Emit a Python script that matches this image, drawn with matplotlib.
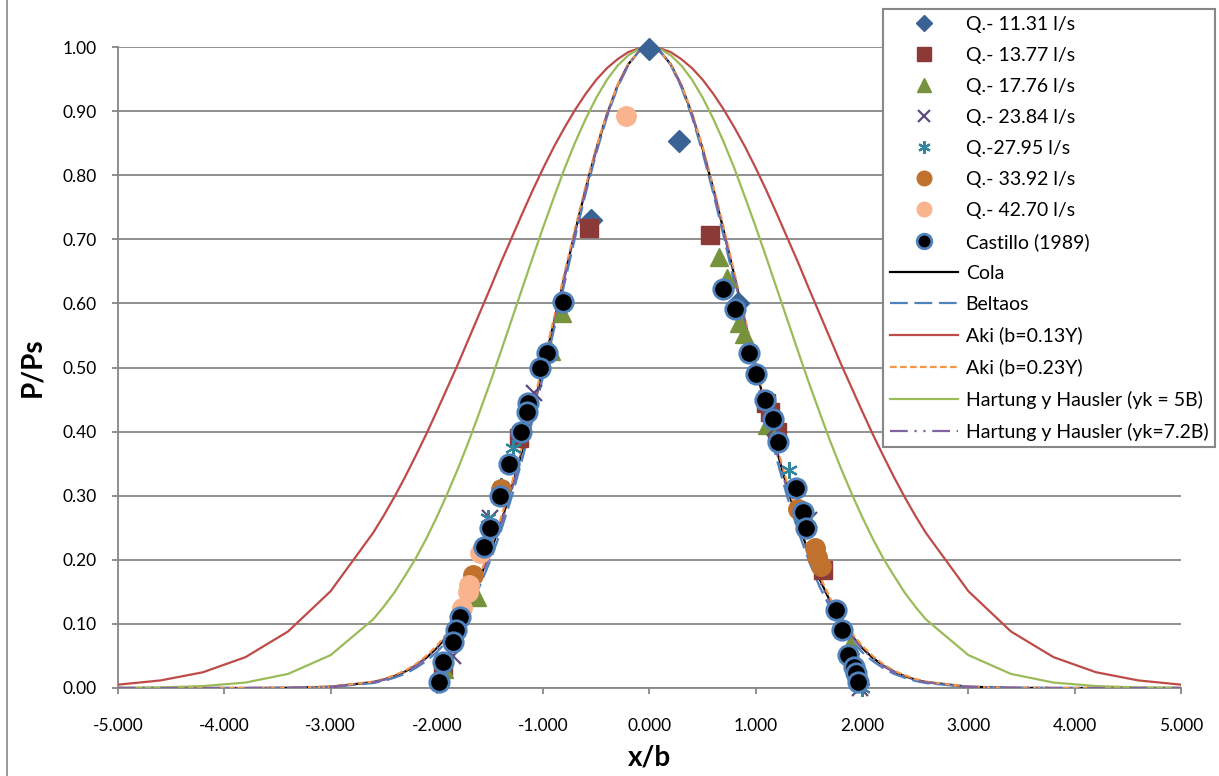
import matplotlib
matplotlib.use("Agg")
import matplotlib.pyplot as plt
from matplotlib.ticker import FormatStrFormatter, FixedLocator
from matplotlib.lines import Line2D

plt.rcParams['font.family'] = ['Lato', 'DejaVu Sans']
plt.rcParams['axes.unicode_minus'] = False

# ---------------- data ----------------
curve_x = [-5.0, -4.6, -4.2, -3.8, -3.4, -3.0,
           -2.6, -2.5, -2.4, -2.3, -2.2, -2.1, -2.0, -1.9, -1.8, -1.7, -1.6, -1.5, -1.4,
           -1.3, -1.2, -1.1, -1.0, -0.9, -0.8, -0.7, -0.6, -0.5, -0.4, -0.3, -0.2, -0.1,
           0.0,
           0.1, 0.2, 0.3, 0.4, 0.5, 0.6, 0.7, 0.8, 0.9, 1.0, 1.1, 1.2, 1.3,
           1.4, 1.5, 1.6, 1.7, 1.8, 1.9, 2.0, 2.1, 2.2, 2.3, 2.4, 2.5, 2.6,
           3.0, 3.4, 3.8, 4.2, 4.6, 5.0]

cola_y = [0.0, 0.0, 0.0, 0.0, 0.0003, 0.0020,
          0.0092, 0.0131, 0.0185, 0.0256, 0.0349, 0.0471, 0.0625, 0.082, 0.106, 0.135, 0.170, 0.210, 0.257,
          0.310, 0.369, 0.432, 0.500, 0.570, 0.642, 0.712, 0.779, 0.841, 0.895, 0.940, 0.973, 0.993,
          1.000,
          0.993, 0.973, 0.940, 0.895, 0.841, 0.779, 0.712, 0.642, 0.570, 0.500, 0.432, 0.369, 0.310,
          0.257, 0.210, 0.170, 0.135, 0.106, 0.082, 0.0625, 0.0471, 0.0349, 0.0256, 0.0185, 0.0131, 0.0092,
          0.0020, 0.0003, 0.0, 0.0, 0.0, 0.0]

beltaos_y = [0.0, 0.0, 0.0, 0.0, 0.0002, 0.0015,
             0.0077, 0.011, 0.016, 0.022, 0.031, 0.042, 0.056, 0.074, 0.097, 0.125, 0.158, 0.198, 0.244,
             0.296, 0.355, 0.418, 0.487, 0.558, 0.631, 0.703, 0.772, 0.835, 0.891, 0.937, 0.972, 0.993,
             1.000,
             0.993, 0.972, 0.937, 0.891, 0.835, 0.772, 0.703, 0.631, 0.558, 0.487, 0.418, 0.355, 0.296,
             0.244, 0.198, 0.158, 0.125, 0.097, 0.074, 0.056, 0.042, 0.031, 0.022, 0.016, 0.011, 0.0077,
             0.0015, 0.0002, 0.0, 0.0, 0.0, 0.0]

aki013_y = [0.0052, 0.0118, 0.0246, 0.0482, 0.0882, 0.151,
            0.242, 0.269, 0.298, 0.329, 0.362, 0.396, 0.432, 0.469, 0.506, 0.545, 0.584, 0.623, 0.663,
            0.701, 0.739, 0.776, 0.811, 0.844, 0.874, 0.902, 0.927, 0.949, 0.967, 0.981, 0.992, 0.998,
            1.000,
            0.998, 0.992, 0.981, 0.967, 0.949, 0.927, 0.902, 0.874, 0.844, 0.811, 0.776, 0.739, 0.701,
            0.663, 0.623, 0.584, 0.545, 0.506, 0.469, 0.432, 0.396, 0.362, 0.329, 0.298, 0.269, 0.242,
            0.151, 0.0882, 0.0482, 0.0246, 0.0118, 0.0052]

aki023_y = [0.0, 0.0, 0.0, 0.0, 0.0004, 0.0022,
            0.010, 0.014, 0.020, 0.027, 0.037, 0.050, 0.066, 0.086, 0.110, 0.140, 0.175, 0.217, 0.264,
            0.317, 0.376, 0.439, 0.507, 0.576, 0.647, 0.717, 0.783, 0.844, 0.897, 0.941, 0.973, 0.993,
            1.000,
            0.993, 0.973, 0.941, 0.897, 0.844, 0.783, 0.717, 0.647, 0.576, 0.507, 0.439, 0.376, 0.317,
            0.264, 0.217, 0.175, 0.140, 0.110, 0.086, 0.066, 0.050, 0.037, 0.027, 0.020, 0.014, 0.010,
            0.0022, 0.0004, 0.0, 0.0, 0.0, 0.0]

hh5_y = [0.0003, 0.0009, 0.0030, 0.0085, 0.0220, 0.0513,
         0.107, 0.127, 0.149, 0.175, 0.202, 0.233, 0.267, 0.304, 0.343, 0.385, 0.430, 0.476, 0.524,
         0.573, 0.622, 0.671, 0.719, 0.765, 0.810, 0.851, 0.888, 0.921, 0.949, 0.971, 0.987, 0.997,
         1.000,
         0.997, 0.987, 0.971, 0.949, 0.921, 0.888, 0.851, 0.810, 0.765, 0.719, 0.671, 0.622, 0.573,
         0.524, 0.476, 0.430, 0.385, 0.343, 0.304, 0.267, 0.233, 0.202, 0.175, 0.149, 0.127, 0.107,
         0.0513, 0.0220, 0.0085, 0.0030, 0.0009, 0.0003]

hh72_y = [0.0, 0.0, 0.0, 0.0, 0.0003, 0.0018,
          0.0088, 0.013, 0.018, 0.025, 0.034, 0.046, 0.061, 0.080, 0.104, 0.132, 0.167, 0.207, 0.254,
          0.306, 0.365, 0.429, 0.497, 0.567, 0.639, 0.710, 0.777, 0.839, 0.894, 0.939, 0.972, 0.993,
          1.000,
          0.993, 0.972, 0.939, 0.894, 0.839, 0.777, 0.710, 0.639, 0.567, 0.497, 0.429, 0.365, 0.306,
          0.254, 0.207, 0.167, 0.132, 0.104, 0.080, 0.061, 0.046, 0.034, 0.025, 0.018, 0.013, 0.0088,
          0.0018, 0.0003, 0.0, 0.0, 0.0, 0.0]

q1131_x = [0.00, 0.28, -0.55, 0.83]
q1131_y = [0.997, 0.853, 0.730, 0.600]

q1377_x = [-0.57, 0.57, -1.23, 1.10, 1.13, 1.20, 1.63, -1.94]
q1377_y = [0.718, 0.707, 0.390, 0.445, 0.430, 0.400, 0.184, 0.035]

q1776_x = [0.65, 0.73, 0.84, 0.89, -0.82, -0.93, 1.11, 1.89, -1.62, -1.93]
q1776_y = [0.673, 0.640, 0.570, 0.553, 0.585, 0.525, 0.410, 0.067, 0.142, 0.030]

q2384_x = [-1.09, -1.50, -1.85, 1.18, 1.50, 1.98]
q2384_y = [0.460, 0.265, 0.050, 0.405, 0.262, 0.000]

q2795_x = [1.31, -1.28, -1.40, -1.52, 2.00, 1.43]
q2795_y = [0.340, 0.375, 0.315, 0.265, 0.000, 0.265]

q3392_x = [1.40, 1.56, 1.58, 1.61, -1.40, -1.66]
q3392_y = [0.280, 0.218, 0.205, 0.190, 0.310, 0.176]

q4270_x = [-0.22, -1.59, -1.70, -1.71, -1.76]
q4270_y = [0.893, 0.210, 0.160, 0.150, 0.125]

castillo_x = [-0.81, -0.96, -1.03, -1.14, -1.15, -1.21, -1.32, -1.41, -1.50, -1.56, -1.78, -1.82,
              -1.85, -1.94, -1.98, 0.69, 0.80, 0.94, 1.00, 1.09, 1.16, 1.21, 1.38, 1.44, 1.47,
              1.75, 1.81, 1.87, 1.92, 1.94, 1.96]
castillo_y = [0.602, 0.523, 0.500, 0.445, 0.430, 0.400, 0.350, 0.300, 0.250, 0.220, 0.110, 0.090,
              0.072, 0.040, 0.010, 0.622, 0.592, 0.522, 0.490, 0.450, 0.420, 0.383, 0.312, 0.275, 0.250,
              0.122, 0.090, 0.051, 0.033, 0.023, 0.010]

x_ticks = [-5, -4, -3, -2, -1, 0, 1, 2, 3, 4, 5]
y_ticks = [0.0, 0.1, 0.2, 0.3, 0.4, 0.5, 0.6, 0.7, 0.8, 0.9, 1.0]

# ---------------- figure ----------------
W, H = 1219, 776
fig = plt.figure(figsize=(W / 100, H / 100), dpi=100)
ax = fig.add_axes([118 / W, 1 - 688 / H, (1181 - 118) / W, (688 - 47) / H])

grid_c = '#878787'
ax.set_xlim(-5, 5)
ax.set_ylim(0, 1)
ax.xaxis.set_major_locator(FixedLocator(x_ticks))
ax.yaxis.set_major_locator(FixedLocator(y_ticks))
ax.xaxis.set_major_formatter(FormatStrFormatter('%.3f'))
ax.yaxis.set_major_formatter(FormatStrFormatter('%.2f'))
ax.grid(axis='y', color=grid_c, lw=1.3, zorder=0)
ax.set_axisbelow(True)
for s in ['top', 'right']:
    ax.spines[s].set_visible(False)
for s in ['left', 'bottom']:
    ax.spines[s].set_color(grid_c)
    ax.spines[s].set_linewidth(1.3)
ax.tick_params(axis='both', direction='out', length=4.5, width=1.3, color=grid_c,
               labelsize=12.5, labelcolor='black')
ax.tick_params(axis='y', pad=11)
ax.tick_params(axis='x', pad=17)

# lines
lw = 1.6
l_cola, = ax.plot(curve_x, cola_y, color='black', lw=lw, label='Cola', zorder=3)
l_belt, = ax.plot(curve_x, beltaos_y, color='#4F81BD', lw=lw, ls=(0, (8, 3)), label='Beltaos', zorder=3)
l_aki1, = ax.plot(curve_x, aki013_y, color='#BE4B48', lw=lw, label='Aki (b=0.13Y)', zorder=3)
l_aki2, = ax.plot(curve_x, aki023_y, color='#F79646', lw=lw, ls=(0, (3, 1.5)), label='Aki (b=0.23Y)', zorder=3)
l_hh5, = ax.plot(curve_x, hh5_y, color='#9BBB59', lw=lw, label='Hartung y Hausler (yk = 5B)', zorder=3)
l_hh72, = ax.plot(curve_x, hh72_y, color='#8064A2', lw=lw, ls=(0, (8, 3, 1, 3, 1, 3)),
                  label='Hartung y Hausler (yk=7.2B)', zorder=3)

# markers
kw = dict(ls='none', clip_on=False, zorder=4)
m1, = ax.plot(q1131_x, q1131_y, marker='D', ms=11, color='#3A6295', mec='#3A6295', label='Q.- 11.31 l/s', **kw)
m2, = ax.plot(q1377_x, q1377_y, marker='s', ms=13, color='#8C3A38', mec='#8C3A38', label='Q.- 13.77 l/s', **kw)
m3, = ax.plot(q1776_x, q1776_y, marker='^', ms=13, color='#76923C', mec='#76923C', label='Q.- 17.76 l/s', **kw)
m4, = ax.plot(q2384_x, q2384_y, marker='x', ms=11, mew=1.6, color='#604A7B', label='Q.- 23.84 l/s', **kw)
m5, = ax.plot(q2795_x, q2795_y, marker=(6, 2, 0), ms=12, mew=1.6, color='#31859C', label='Q.-27.95 l/s', **kw)
m6, = ax.plot(q3392_x, q3392_y, marker='o', ms=14, color='#C0712E', mec='#C0712E', label='Q.- 33.92 l/s', **kw)
m7, = ax.plot(q4270_x, q4270_y, marker='o', ms=14, color='#F9B48E', mec='#F9B48E', label='Q.- 42.70 l/s', **kw)
m8, = ax.plot(castillo_x, castillo_y, marker='o', ms=14, color='black', mec='#4F81BD', mew=2,
              label='Castillo (1989)', **kw)

ax.set_xlabel('x/b', fontsize=20, fontweight='bold', labelpad=8)
ax.set_ylabel('P/Ps', fontsize=20, fontweight='bold', labelpad=12)

handles = [m1, m2, m3, m4, m5, m6, m7, m8, l_cola, l_belt, l_aki1, l_aki2, l_hh5, l_hh72]
leg = fig.legend(handles=handles, loc='upper left', bbox_to_anchor=(883 / W, 1 - 9 / H),
                 fontsize=14, frameon=True, fancybox=False, framealpha=1, edgecolor=grid_c,
                 borderaxespad=0, borderpad=0.35, labelspacing=0.72, handlelength=3.5,
                 handletextpad=0.4, markerscale=0.75)
leg.get_frame().set_linewidth(1.5)

# outer chart border (left edge visible)
fig.add_artist(Line2D([7 / W, 7 / W], [0, 1], color=grid_c, lw=1.2, transform=fig.transFigure))

fig.savefig('out.png', dpi=100)
